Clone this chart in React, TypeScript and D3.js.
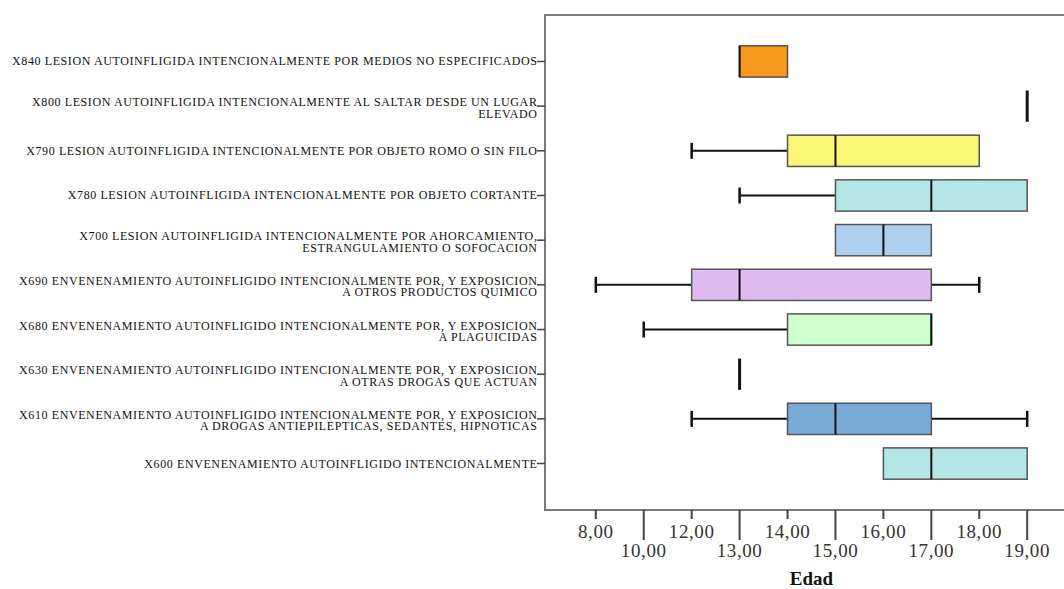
import React, { useRef, useEffect } from 'react';
import * as d3 from 'd3';

// Edad por causa (boxplot horizontal estilo SPSS)
const categories: string[][] = [
  ['X840 LESION AUTOINFLIGIDA INTENCIONALMENTE POR MEDIOS NO ESPECIFICADOS'],
  ['X800 LESION AUTOINFLIGIDA INTENCIONALMENTE AL SALTAR DESDE UN LUGAR', 'ELEVADO'],
  ['X790 LESION AUTOINFLIGIDA INTENCIONALMENTE POR OBJETO ROMO O SIN FILO'],
  ['X780 LESION AUTOINFLIGIDA INTENCIONALMENTE POR OBJETO CORTANTE'],
  ['X700 LESION AUTOINFLIGIDA INTENCIONALMENTE POR AHORCAMIENTO,', 'ESTRANGULAMIENTO O SOFOCACION'],
  ['X690 ENVENENAMIENTO AUTOINFLIGIDO INTENCIONALMENTE POR, Y EXPOSICION', 'A OTROS PRODUCTOS QUIMICO'],
  ['X680 ENVENENAMIENTO AUTOINFLIGIDO INTENCIONALMENTE POR, Y EXPOSICION', 'A PLAGUICIDAS'],
  ['X630 ENVENENAMIENTO AUTOINFLIGIDO INTENCIONALMENTE POR, Y EXPOSICION', 'A OTRAS DROGAS QUE ACTUAN'],
  ['X610 ENVENENAMIENTO AUTOINFLIGIDO INTENCIONALMENTE POR, Y EXPOSICION', 'A DROGAS ANTIEPILEPTICAS, SEDANTES, HIPNOTICAS'],
  ['X600 ENVENENAMIENTO AUTOINFLIGIDO INTENCIONALMENTE'],
];

const mins = [13, 19, 12, 13, 15, 8, 10, 13, 12, 16];
const q1s = [13, 19, 14, 15, 15, 12, 14, 13, 14, 16];
const medians = [13, 19, 15, 17, 16, 13, 17, 13, 15, 17];
const q3s = [14, 19, 18, 19, 17, 17, 17, 13, 17, 19];
const maxs = [14, 19, 18, 19, 17, 18, 17, 13, 19, 19];
const boxColors = ['#f7981d', '#b4e6e6', '#faf776', '#b4e6e6', '#aed0ee', '#e0bbf2', '#ccffcc', '#aed0ee', '#7aaad6', '#b4e6e6'];

const ageTicks = [8, 10, 12, 13, 14, 15, 16, 17, 18, 19];

const width = 1064;
const height = 589;

const App = () => {
  const svgRef = useRef<SVGSVGElement>(null);

  useEffect(() => {
    const left = 545;
    const right = 1078;
    const top = 15;
    const bottom = 510;

    const svg = d3.select(svgRef.current);
    svg.selectAll('*').remove();

    const locale = d3.formatLocale({ decimal: ',', thousands: '.', grouping: [3], currency: ['', ''] });
    const fmt = locale.format('.2f');

    const x = d3.scalePoint<string>()
      .domain(ageTicks.map(String))
      .range([left, right])
      .padding(1.06);
    const xv = (v: number) => x(String(v)) as number;

    const rows = categories.map((c, i) => String(i));
    const y = d3.scalePoint<string>()
      .domain(rows)
      .range([top, bottom])
      .padding(1.04);

    const boxH = y.step() * 0.7;

    // frame
    svg.append('rect')
      .attr('x', left)
      .attr('y', top)
      .attr('width', right - left)
      .attr('height', bottom - top)
      .attr('fill', 'none')
      .attr('stroke', '#7a7a7a')
      .attr('stroke-width', 2);

    // y ticks & labels
    const yAxis = svg.append('g')
      .attr('font-family', '"Liberation Serif", "Times New Roman", serif')
      .attr('font-size', 12)
      .attr('letter-spacing', 0.6)
      .attr('fill', '#111')
      .attr('text-anchor', 'end');

    categories.forEach((lines, i) => {
      const cy = y(String(i)) as number;
      yAxis.append('line')
        .attr('x1', left - 8)
        .attr('x2', left)
        .attr('y1', cy)
        .attr('y2', cy)
        .attr('stroke', '#444')
        .attr('stroke-width', 1.5);
      lines.forEach((ln, j) => {
        const base = lines.length === 1 ? cy + 4 : cy + j * 11.5;
        yAxis.append('text')
          .attr('x', left - 7.5)
          .attr('y', base)
          .text(ln);
      });
    });

    // x ticks & labels
    const xAxis = svg.append('g')
      .attr('font-family', '"Liberation Serif", "Times New Roman", serif')
      .attr('font-size', 19)
      .attr('letter-spacing', 0.6)
      .attr('fill', '#333')
      .attr('text-anchor', 'middle');

    ageTicks.forEach((t, i) => {
      const tx = xv(t);
      const low = i % 2 === 1;
      xAxis.append('line')
        .attr('x1', tx)
        .attr('x2', tx)
        .attr('y1', bottom)
        .attr('y2', low ? bottom + 30 : bottom + 9)
        .attr('stroke', '#444')
        .attr('stroke-width', 2);
      xAxis.append('text')
        .attr('x', tx)
        .attr('y', low ? 557 : 538)
        .text(fmt(t));
    });

    svg.append('text')
      .attr('x', (left + right) / 2)
      .attr('y', 585)
      .attr('text-anchor', 'middle')
      .attr('font-family', '"Liberation Serif", "Times New Roman", serif')
      .attr('font-weight', 'bold')
      .attr('font-size', 19)
      .attr('fill', '#111')
      .text('Edad');

    // boxes
    const g = svg.append('g');
    categories.forEach((_, i) => {
      const cy = y(String(i)) as number;
      const mn = xv(mins[i]);
      const a = xv(q1s[i]);
      const md = xv(medians[i]);
      const b = xv(q3s[i]);
      const mx = xv(maxs[i]);

      if (mn < a) {
        g.append('line').attr('x1', mn).attr('x2', a).attr('y1', cy).attr('y2', cy)
          .attr('stroke', '#111').attr('stroke-width', 2);
        g.append('line').attr('x1', mn).attr('x2', mn).attr('y1', cy - 8).attr('y2', cy + 8)
          .attr('stroke', '#111').attr('stroke-width', 2.5);
      }
      if (mx > b) {
        g.append('line').attr('x1', b).attr('x2', mx).attr('y1', cy).attr('y2', cy)
          .attr('stroke', '#111').attr('stroke-width', 2);
        g.append('line').attr('x1', mx).attr('x2', mx).attr('y1', cy - 8).attr('y2', cy + 8)
          .attr('stroke', '#111').attr('stroke-width', 2.5);
      }
      if (b > a) {
        g.append('rect')
          .attr('x', a)
          .attr('y', cy - boxH / 2)
          .attr('width', b - a)
          .attr('height', boxH)
          .attr('fill', boxColors[i])
          .attr('stroke', '#555')
          .attr('stroke-width', 1.5);
      }
      g.append('line')
        .attr('x1', md).attr('x2', md)
        .attr('y1', cy - boxH / 2).attr('y2', cy + boxH / 2)
        .attr('stroke', '#111')
        .attr('stroke-width', b > a ? 2 : 3);
    });
  }, []);

  return (
    <div style={{ position: 'absolute', left: 0, top: 0, width, height }}>
      <svg ref={svgRef} width={width} height={height} style={{ display: 'block', background: '#fff' }} />
    </div>
  );
};

export default App;
